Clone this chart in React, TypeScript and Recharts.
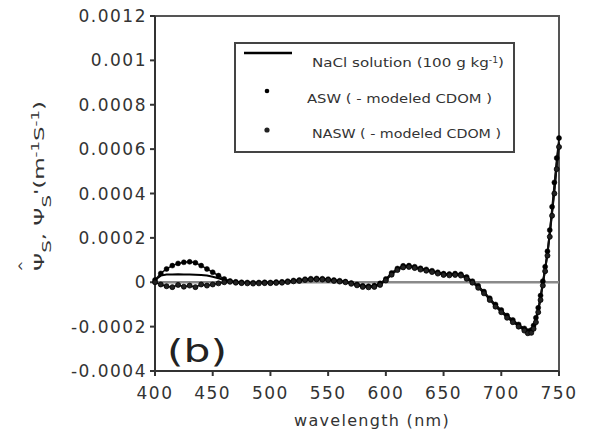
import React from 'react';
import {
  LineChart,
  Line,
  XAxis,
  YAxis,
  ReferenceLine,
  ReferenceArea,
} from 'recharts';

// wavelength (nm)
const wavelengths = [
  400, 405, 410, 415, 420, 425, 430, 435, 440, 445, 450, 455, 460, 465, 470,
  475, 480, 485, 490, 495, 500, 505, 510, 515, 520, 525, 530, 535, 540, 545,
  550, 555, 560, 565, 570, 575, 580, 585, 590, 595,
  600, 605, 610, 615, 620, 625, 630, 635, 640, 645, 650, 655, 660, 665, 670,
  675, 680, 685, 690, 695, 700, 705, 710, 715, 720,
  723, 726, 728, 730, 732, 734, 736, 738, 740, 742, 744, 746, 748, 750,
];

// values in units of 1e-4 m^-1 S^-1
const nacl = [
  0.1, 0.3, 0.35, 0.35, 0.36, 0.35, 0.35, 0.34, 0.33, 0.3, 0.25, 0.18, 0.1, 0.05, 0.0,
  -0.02, -0.03, -0.03, -0.03, -0.02, -0.02, -0.01, 0.0, 0.03, 0.06, 0.08, 0.12, 0.14, 0.15, 0.14,
  0.12, 0.08, 0.05, 0.02, -0.05, -0.12, -0.18, -0.2, -0.18, -0.08,
  0.12, 0.38, 0.58, 0.7, 0.72, 0.67, 0.6, 0.55, 0.49, 0.42, 0.36, 0.34, 0.36, 0.33, 0.2,
  0.02, -0.2, -0.45, -0.75, -1.05, -1.3, -1.55, -1.75, -1.95, -2.12,
  -2.25, -2.2, -2.0, -1.7, -1.25, -0.7, -0.05, 0.6, 1.3, 2.2, 3.2, 4.2, 5.3, 6.3,
];

const asw = [
  0.1, 0.4, 0.6, 0.75, 0.85, 0.9, 0.92, 0.88, 0.75, 0.6, 0.45, 0.3, 0.15, 0.06, 0.02,
  0.0, -0.01, -0.02, -0.01, 0.0, -0.01, 0.01, 0.02, 0.05, 0.08, 0.1, 0.14, 0.16, 0.17, 0.16,
  0.14, 0.1, 0.07, 0.03, -0.03, -0.1, -0.16, -0.18, -0.15, -0.05,
  0.15, 0.42, 0.62, 0.74, 0.75, 0.7, 0.63, 0.58, 0.52, 0.45, 0.39, 0.37, 0.39, 0.36, 0.24,
  0.05, -0.16, -0.42, -0.72, -1.0, -1.25, -1.5, -1.7, -1.9, -2.08,
  -2.2, -2.15, -1.95, -1.6, -1.15, -0.6, 0.05, 0.7, 1.4, 2.35, 3.4, 4.5, 5.6, 6.5,
];

const nasw = [
  0.0, -0.1, -0.18, -0.22, -0.12, -0.2, -0.15, -0.22, -0.1, -0.15, -0.1, -0.05, 0.0, 0.02, -0.02,
  -0.04, -0.05, -0.06, -0.05, -0.04, -0.04, -0.03, -0.02, 0.01, 0.04, 0.06, 0.1, 0.12, 0.13, 0.12,
  0.1, 0.06, 0.03, 0.0, -0.07, -0.14, -0.21, -0.23, -0.21, -0.12,
  0.08, 0.34, 0.55, 0.67, 0.69, 0.64, 0.57, 0.52, 0.46, 0.39, 0.33, 0.31, 0.33, 0.3, 0.16,
  -0.02, -0.25, -0.5, -0.8, -1.1, -1.35, -1.6, -1.8, -2.0, -2.18,
  -2.3, -2.28, -2.1, -1.8, -1.35, -0.8, -0.15, 0.5, 1.2, 2.05, 3.0, 4.0, 5.1, 6.1,
];

const xTicks = [400, 450, 500, 550, 600, 650, 700, 750];
const yTicks = [-0.0004, -0.0002, 0, 0.0002, 0.0004, 0.0006, 0.0008, 0.001, 0.0012];

const data = wavelengths.map((wl, i) => ({
  wl,
  nacl: nacl[i] * 1e-4,
  asw: asw[i] * 1e-4,
  nasw: nasw[i] * 1e-4,
}));

const FONT = '"DejaVu Sans", sans-serif';
const AXIS = '#333';

function LegendBox() {
  return (
    <svg width={282} height={112} style={{ display: 'block' }}>
      <rect x={1} y={1} width={279} height={109} fill="#fff" stroke="#444" strokeWidth={2} />
      <line x1={10} y1={11} x2={58} y2={11} stroke="#000" strokeWidth={2.5} />
      <text x={78} y={25} fontFamily={FONT} fontSize={13} fill="#333" textLength={192} lengthAdjust="spacingAndGlyphs">
        NaCl solution (100 g kg<tspan baselineShift="super" fontSize={8}>-1</tspan>)
      </text>
      <circle cx={33} cy={49} r={2.3} fill="#000" />
      <text x={73} y={61} fontFamily={FONT} fontSize={13} fill="#333" textLength={185} lengthAdjust="spacingAndGlyphs">
        ASW  ( - modeled  CDOM )
      </text>
      <circle cx={33} cy={88} r={2.6} fill="#222" />
      <text x={78} y={96} fontFamily={FONT} fontSize={13} fill="#333" textLength={189} lengthAdjust="spacingAndGlyphs">
        NASW ( - modeled  CDOM )
      </text>
    </svg>
  );
}

export default function App() {
  return (
    <div style={{ position: 'relative', width: 589, height: 431, background: '#fff' }}>
      <style>{'body{margin:0}'}</style>
      <LineChart
        width={589}
        height={431}
        data={data}
        margin={{ top: 16, right: 30, left: 0, bottom: 0 }}
      >
        <ReferenceArea
          x1={400}
          x2={750}
          y1={-0.0004}
          y2={0.0012}
          fill="none"
          stroke="#555"
          strokeWidth={2}
        />
        <ReferenceLine y={0} stroke="#8a8a8a" strokeWidth={2.5} />
        <XAxis
          dataKey="wl"
          type="number"
          domain={[400, 750]}
          ticks={xTicks}
          height={60}
          tickSize={5}
          tickMargin={11}
          stroke={AXIS}
          strokeWidth={2}
          tick={{ fill: '#333', fontSize: 17, fontFamily: FONT, letterSpacing: 1.5 }}
          label={{
            value: 'wavelength  (nm)',
            position: 'insideBottom',
            offset: 5,
            dx: 15,
            style: { fill: '#333', fontSize: 16, fontFamily: FONT, letterSpacing: 1.3 },
          }}
        />
        <YAxis
          type="number"
          domain={[-0.0004, 0.0012]}
          ticks={yTicks}
          width={155}
          tickSize={5}
          tickMargin={3}
          stroke={AXIS}
          strokeWidth={2}
          tickFormatter={(v: number) => String(v)}
          tick={{ fill: '#333', fontSize: 17, fontFamily: FONT, letterSpacing: 1.5 }}
        />
        <Line
          dataKey="nacl"
          stroke="#000"
          strokeWidth={2}
          dot={false}
          isAnimationActive={false}
        />
        <Line
          dataKey="asw"
          stroke="#111"
          strokeWidth={1.5}
          dot={{ r: 2.5, fill: '#000', stroke: '#000', strokeWidth: 0.5 }}
          isAnimationActive={false}
        />
        <Line
          dataKey="nasw"
          stroke="#111"
          strokeWidth={1.5}
          dot={{ r: 2.5, fill: '#222', stroke: '#000', strokeWidth: 0.8 }}
          isAnimationActive={false}
        />
      </LineChart>
      <div style={{ position: 'absolute', left: 234, top: 42 }}>
        <LegendBox />
      </div>
      <svg
        width={589}
        height={431}
        style={{ position: 'absolute', left: 0, top: 0, pointerEvents: 'none' }}
      >
        <text
          transform="translate(44,186) rotate(-90)"
          textAnchor="middle"
          fontFamily={FONT}
          fontSize={14}
          fill="#333"
          textLength={170}
          lengthAdjust="spacingAndGlyphs"
        >
          Ψ<tspan baselineShift="sub" fontSize={12}>S</tspan>, Ψ<tspan baselineShift="sub" fontSize={12}>S</tspan>'(m<tspan baselineShift="super" fontSize={10}>-1</tspan>S<tspan baselineShift="super" fontSize={10}>-1</tspan>)
        </text>
        <text
          transform="translate(28,266) rotate(-90)"
          textAnchor="middle"
          fontFamily={FONT}
          fontSize={13}
          fill="#333"
        >
          ^
        </text>
        <text x={167} y={362} fontFamily={FONT} fontSize={32} fill="#222" textLength={60} lengthAdjust="spacingAndGlyphs">
          (b)
        </text>
      </svg>
    </div>
  );
}
